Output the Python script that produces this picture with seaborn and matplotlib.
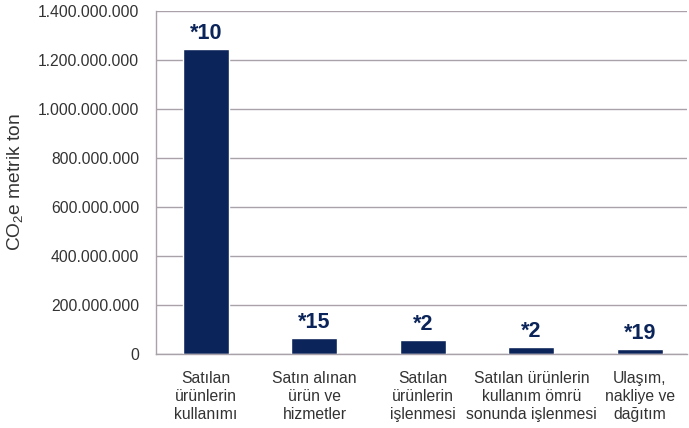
import matplotlib
matplotlib.use("Agg")
import matplotlib.pyplot as plt
import matplotlib.ticker as mticker
import seaborn as sns
import pandas as pd

categories = [
    "Satılan\nürünlerin\nkullanımı",
    "Satın alınan\nürün ve\nhizmetler",
    "Satılan\nürünlerin\nişlenmesi",
    "Satılan ürünlerin\nkullanım ömrü\nsonunda işlenmesi",
    "Ulaşım,\nnakliye ve\ndağıtım",
]
values = [1246000000, 66000000, 57000000, 30000000, 19000000]
labels = ["*10", "*15", "*2", "*2", "*19"]
yticks = [0, 200000000, 400000000, 600000000, 800000000, 1000000000, 1200000000, 1400000000]

sns.set_theme(style="white")
plt.rcParams["font.family"] = ["Liberation Sans", "DejaVu Sans"]
plt.rcParams["mathtext.default"] = "regular"

navy = "#0b2459"
text_col = "#333333"
grid_col = "#a9a3a9"

df = pd.DataFrame({"cat": categories, "val": values})

fig = plt.figure(figsize=(6.89, 4.28), dpi=100)
ax = fig.add_axes([0.2264, 0.1729, 0.7706, 0.802])

sns.barplot(data=df, x="cat", y="val", color=navy, width=0.424, saturation=1, ax=ax)

ax.set_ylim(0, 1400000000)
ax.set_xlim(-0.461, 4.433)
ax.set_yticks(yticks)
ax.yaxis.set_major_formatter(mticker.FuncFormatter(lambda v, p: f"{int(v):,}".replace(",", ".")))
ax.yaxis.grid(True, color=grid_col, linewidth=1)
ax.set_axisbelow(True)
for s in ["top", "right"]:
    ax.spines[s].set_visible(False)
for s in ["left", "bottom"]:
    ax.spines[s].set_color(grid_col)
    ax.spines[s].set_linewidth(1)

ax.tick_params(axis="y", length=0, pad=12, labelsize=11.3, labelcolor=text_col)
ax.tick_params(axis="x", length=0, pad=12, labelsize=11.3, labelcolor=text_col)
for t in ax.get_xticklabels():
    t.set_linespacing(1.25)
    t.set_ha("center")

ax.set_xlabel("")
ax.set_ylabel("CO$_2$e metrik ton", fontsize=13.8, color=text_col)
ax.yaxis.set_label_coords(-0.247, 0.5)

for i, (v, lab) in enumerate(zip(values, labels)):
    ax.annotate(lab, (i, v), xytext=(0, 3.5), textcoords="offset points",
                ha="center", va="bottom", fontsize=15.5, fontweight="bold", color=navy)

fig.savefig("out.png", dpi=100)
